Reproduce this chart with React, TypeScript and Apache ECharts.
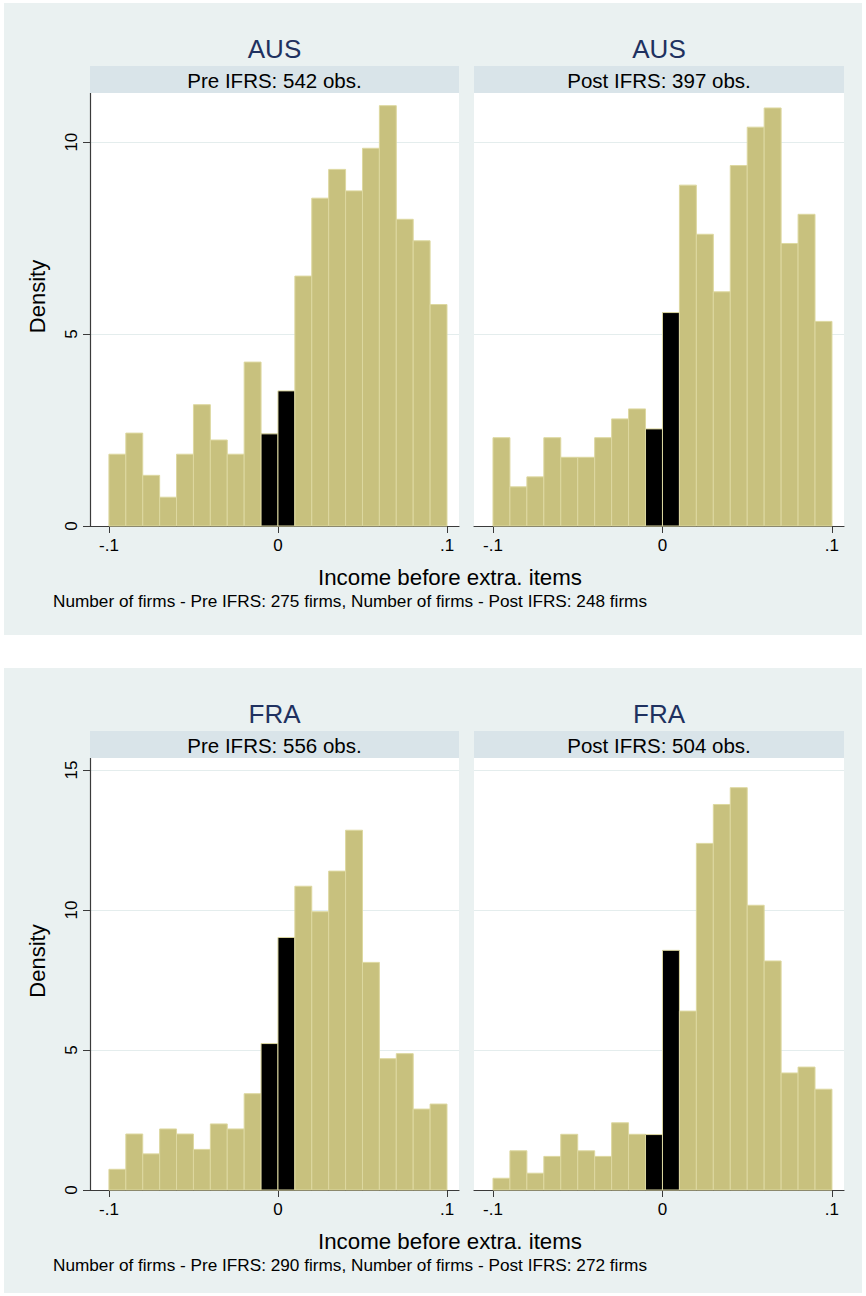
import React, { useEffect, useRef } from "react";
import * as echarts from "echarts";

// ---- Data ----
const binStarts = [-0.1, -0.09, -0.08, -0.07, -0.06, -0.05, -0.04, -0.03, -0.02, -0.01, 0, 0.01, 0.02, 0.03, 0.04, 0.05, 0.06, 0.07, 0.08, 0.09];
const binWidth = 0.01;
const highlightedBins = [-0.01, 0];

const ausPre = [1.87, 2.42, 1.32, 0.75, 1.87, 3.16, 2.24, 1.87, 4.27, 2.4, 3.52, 6.51, 8.54, 9.29, 8.73, 9.84, 10.95, 7.99, 7.43, 5.77];
const ausPost = [2.3, 1.02, 1.28, 2.3, 1.79, 1.79, 2.3, 2.79, 3.05, 2.53, 5.56, 8.88, 7.6, 6.1, 9.39, 10.39, 10.89, 7.36, 8.12, 5.33];
const fraPre = [0.74, 2.0, 1.29, 2.18, 2.0, 1.45, 2.36, 2.18, 3.44, 5.23, 9.02, 10.85, 9.94, 11.39, 12.85, 8.13, 4.69, 4.87, 2.89, 3.07];
const fraPost = [0.42, 1.4, 0.6, 1.2, 1.99, 1.4, 1.2, 2.4, 1.99, 1.98, 8.56, 6.39, 12.38, 13.77, 14.37, 10.17, 8.18, 4.18, 4.39, 3.6];

const countries = ["AUS", "FRA"];
const stripLabels = [
  ["Pre IFRS: 542 obs.", "Post IFRS: 397 obs."],
  ["Pre IFRS: 556 obs.", "Post IFRS: 504 obs."],
];
const notes = [
  "Number of firms - Pre IFRS: 275 firms, Number of firms - Post IFRS: 248 firms",
  "Number of firms - Pre IFRS: 290 firms, Number of firms - Post IFRS: 272 firms",
];
const xTicks = [-0.1, 0, 0.1];
const xTickLabels = ["-.1", "0", ".1"];
const yTicksTop = [0, 5, 10];
const yTicksBottom = [0, 5, 10, 15];
const xTitle = "Income before extra. items";
const yTitle = "Density";

// ---- Style / layout ----
const FONT = "'Liberation Sans', Arial, sans-serif";
const PANEL_BG = "#eaf1f1";
const STRIP_BG = "#d9e4e9";
const TITLE_COLOR = "#1f3160";
const BAR_FILL = "#c8c17e";
const BAR_STROKE = "#ddd8a0";
const AXIS_COLOR = "#3a3a3a";
const GRID_COLOR = "#e4eded";

const panels = [
  { top: 3, height: 632, plotTop: 93, plotH: 433, yMax: 11.28, yTicks: yTicksTop, titleY: 49, stripTop: 66 },
  { top: 668, height: 625, plotTop: 758, plotH: 432, yMax: 15.43, yTicks: yTicksBottom, titleY: 714, stripTop: 731 },
];
const cols = [
  { left: 90, width: 369 },
  { left: 474, width: 370 },
];
const X_MIN = -0.1112;
const X_MAX = 0.1071;

export default function App() {
  const ref = useRef<HTMLDivElement>(null);

  useEffect(() => {
    if (!ref.current) return;
    const chart = echarts.init(ref.current, undefined, { renderer: "svg" });

    const seriesData = [
      [ausPre, ausPost],
      [fraPre, fraPost],
    ];

    const grids: any[] = [];
    const xAxes: any[] = [];
    const yAxes: any[] = [];
    const series: any[] = [];
    const graphic: any[] = [];

    panels.forEach((p, pi) => {
      graphic.push({
        type: "rect",
        z: -10,
        shape: { x: 4, y: p.top, width: 858, height: p.height },
        style: { fill: PANEL_BG },
      });
      cols.forEach((c, ci) => {
        const idx = grids.length;
        grids.push({
          left: c.left,
          top: p.plotTop,
          width: c.width,
          height: p.plotH,
          show: true,
          backgroundColor: "#ffffff",
          borderWidth: 0,
        });
        xAxes.push({
          gridIndex: idx,
          type: "value",
          min: X_MIN,
          max: X_MAX,
          axisLine: { show: true, onZero: false, lineStyle: { color: AXIS_COLOR, width: 1.2 } },
          axisTick: { show: true, length: 7, customValues: xTicks, lineStyle: { color: AXIS_COLOR } },
          axisLabel: {
            show: true,
            customValues: xTicks,
            margin: 11,
            fontFamily: FONT,
            fontSize: 17,
            color: "#000",
            formatter: (v: number) => {
              const i = xTicks.findIndex((t) => Math.abs(t - v) < 1e-9);
              return i >= 0 ? xTickLabels[i] : "";
            },
          },
          splitLine: { show: false },
        });
        const isLeft = ci === 0;
        yAxes.push({
          gridIndex: idx,
          type: "value",
          min: 0,
          max: p.yMax,
          interval: 5,
          axisLine: { show: isLeft, onZero: false, lineStyle: { color: AXIS_COLOR, width: 1.2 } },
          axisTick: { show: isLeft, length: 7, customValues: p.yTicks, lineStyle: { color: AXIS_COLOR } },
          axisLabel: {
            show: isLeft,
            customValues: p.yTicks,
            rotate: 90,
            margin: 10,
            fontFamily: FONT,
            fontSize: 17,
            color: "#000",
          },
          splitLine: { show: true, lineStyle: { color: GRID_COLOR, width: 1.2 } },
        });
        const vals = seriesData[pi][ci];
        series.push({
          type: "custom",
          xAxisIndex: idx,
          yAxisIndex: idx,
          encode: { x: [0, 1], y: 2 },
          data: binStarts.map((s, i) => [
            s,
            s + binWidth,
            vals[i],
            highlightedBins.some((h) => Math.abs(h - s) < 1e-9) ? 1 : 0,
          ]),
          renderItem: (params: any, api: any) => {
            const x0 = api.value(0);
            const x1 = api.value(1);
            const v = api.value(2);
            const hl = api.value(3);
            const p0 = api.coord([x0, v]);
            const p1 = api.coord([x1, 0]);
            return {
              type: "rect",
              shape: { x: p0[0], y: p0[1], width: p1[0] - p0[0], height: p1[1] - p0[1] },
              style: { fill: hl ? "#000000" : BAR_FILL, stroke: BAR_STROKE, lineWidth: 1 },
            };
          },
        });

        // strip
        graphic.push({
          type: "rect",
          z: 5,
          shape: { x: c.left, y: p.stripTop, width: c.width, height: p.plotTop - p.stripTop },
          style: { fill: STRIP_BG },
        });
        graphic.push({
          type: "text",
          z: 6,
          x: c.left + c.width / 2,
          y: (p.stripTop + p.plotTop) / 2 + 1,
          style: {
            text: stripLabels[pi][ci],
            fontFamily: FONT,
            fontSize: 20.5,
            fill: "#000",
            textAlign: "center",
            textVerticalAlign: "middle",
          },
        });
        // title
        graphic.push({
          type: "text",
          z: 6,
          x: c.left + c.width / 2,
          y: p.titleY,
          style: {
            text: countries[pi],
            fontFamily: FONT,
            fontSize: 26,
            fill: TITLE_COLOR,
            textAlign: "center",
            textVerticalAlign: "middle",
          },
        });
      });
      const axisBottom = p.plotTop + p.plotH;
      // y axis title
      graphic.push({
        type: "text",
        z: 6,
        x: 37,
        y: p.plotTop + p.plotH / 2 - 13,
        rotation: Math.PI / 2,
        style: {
          text: yTitle,
          fontFamily: FONT,
          fontSize: 22,
          fill: "#000",
          textAlign: "center",
          textVerticalAlign: "middle",
        },
      });
      graphic.push({
        type: "text",
        z: 6,
        x: 450,
        y: axisBottom + 51,
        style: {
          text: xTitle,
          fontFamily: FONT,
          fontSize: 22.3,
          fill: "#000",
          textAlign: "center",
          textVerticalAlign: "middle",
        },
      });
      graphic.push({
        type: "text",
        z: 6,
        x: 53,
        y: axisBottom + 75,
        style: {
          text: notes[pi],
          fontFamily: FONT,
          fontSize: 17.2,
          fill: "#000",
          textAlign: "left",
          textVerticalAlign: "middle",
        },
      });
    });

    chart.setOption({
      animation: false,
      backgroundColor: "#ffffff",
      textStyle: { fontFamily: FONT },
      grid: grids,
      xAxis: xAxes,
      yAxis: yAxes,
      series,
      graphic,
    });

    return () => chart.dispose();
  }, []);

  return (
    <div
      ref={ref}
      style={{ position: "absolute", left: 0, top: 0, width: 866, height: 1296 }}
    />
  );
}
